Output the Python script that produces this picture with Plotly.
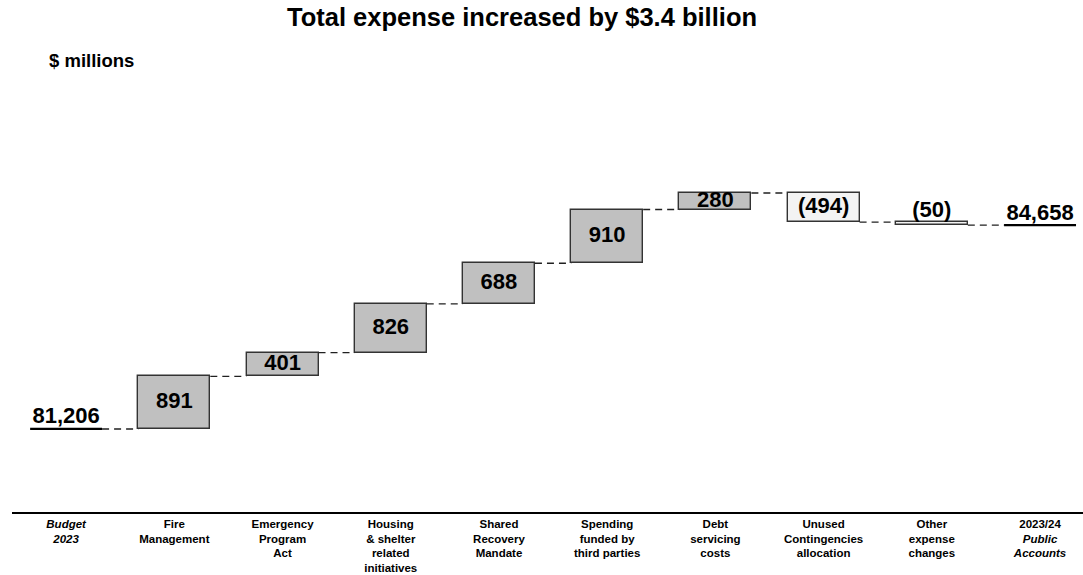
import numpy as np
import plotly.graph_objects as go

categories = [
    "<i>Budget<br>2023</i>",
    "Fire<br>Management",
    "Emergency<br>Program<br>Act",
    "Housing<br>& shelter<br>related<br>initiatives",
    "Shared<br>Recovery<br>Mandate",
    "Spending<br>funded by<br>third parties",
    "Debt<br>servicing<br>costs",
    "Unused<br>Contingencies<br>allocation",
    "Other<br>expense<br>changes",
    "2023/24<br><i>Public<br>Accounts</i>",
]
start_total = 81206
changes = [891, 401, 826, 688, 910, 280, -494, -50]
end_total = 84658
change_labels = ["891", "401", "826", "688", "910", "280", "(494)", "(50)"]
total_labels = ["81,206", "84,658"]

FONT = "Liberation Sans, Arial, sans-serif"
BAR_W = 0.665
HALF = BAR_W / 2

chg = np.array(changes, dtype=float)
cum = start_total + np.cumsum(chg)
prev = np.concatenate([[start_total], cum[:-1]])
bases = np.minimum(prev, cum)
heights = np.abs(chg)
xs = np.arange(1, len(changes) + 1)
n = len(categories)

inc_fill, dec_fill = "#c0c0c0", "#f3f3f3"
fills = [inc_fill if c > 0 else dec_fill for c in changes]

fig = go.Figure()

# connectors
levels = np.concatenate([[start_total], cum])
cx, cy = [], []
for i in range(len(levels)):
    cx += [i + HALF, i + 1 - HALF, None]
    cy += [levels[i], levels[i], None]
fig.add_trace(go.Scatter(x=cx, y=cy, mode="lines",
                         line=dict(color="#202020", width=1.4, dash="7px,5px"),
                         hoverinfo="skip", showlegend=False))

fig.add_trace(go.Bar(x=xs, y=heights, base=bases, width=BAR_W,
                     marker=dict(color=fills, line=dict(color="#333333", width=1.4)),
                     showlegend=False, hoverinfo="skip"))

# total underlines
tot_x = [0, n - 1]
tot_y = [start_total, end_total]
ux, uy = [], []
for x, y in zip(tot_x, tot_y):
    ux += [x - HALF, x + HALF, None]
    uy += [y, y, None]
fig.add_trace(go.Scatter(x=ux, y=uy, mode="lines", line=dict(color="black", width=2.2),
                         hoverinfo="skip", showlegend=False))

VAL_FONT = dict(family=FONT, size=22, color="black", weight="bold")
inside = [i for i in range(len(changes)) if abs(changes[i]) > 100]
outside = [i for i in range(len(changes)) if abs(changes[i]) <= 100]
fig.add_trace(go.Scatter(
    x=[xs[i] for i in inside], y=[bases[i] + heights[i] / 2 for i in inside],
    text=[change_labels[i] for i in inside], mode="text", textposition="middle center",
    textfont=VAL_FONT, hoverinfo="skip", showlegend=False))
fig.add_trace(go.Scatter(
    x=[xs[i] for i in outside], y=[bases[i] + heights[i] for i in outside],
    text=[change_labels[i] for i in outside], mode="text", textposition="top center",
    textfont=VAL_FONT, hoverinfo="skip", showlegend=False))
fig.add_trace(go.Scatter(
    x=tot_x, y=tot_y, text=total_labels, mode="text", textposition="top center",
    textfont=VAL_FONT, hoverinfo="skip", showlegend=False))

fig.update_layout(
    width=1083, height=575,
    margin=dict(l=12, r=0, t=100, b=63),
    paper_bgcolor="white", plot_bgcolor="white",
    bargap=0,
    xaxis=dict(range=[-0.5, 9.397], tickmode="array", tickvals=list(range(n)),
               ticktext=categories, showgrid=False, zeroline=False, automargin=False,
               showline=True, linecolor="black", linewidth=1.5, ticks="",
               tickfont=dict(family=FONT, size=11.5, color="black", weight="bold"),
               fixedrange=True),
    yaxis=dict(range=[79800, 86776], visible=False, fixedrange=True, automargin=False),
    annotations=[
        dict(text="Total expense increased by $3.4 billion", xref="paper", yref="paper",
             x=(522 - 12) / 1071, y=1 + (100 - 17) / 412, xanchor="center", yanchor="middle",
             showarrow=False, font=dict(family=FONT, size=25.5, color="black", weight="bold")),
        dict(text="$ millions", xref="paper", yref="paper",
             x=(47 - 12) / 1071, y=1 + (100 - 61) / 412, xanchor="left", yanchor="middle",
             showarrow=False, font=dict(family=FONT, size=18.5, color="black", weight="bold")),
    ],
)

fig.write_html("out.html")
